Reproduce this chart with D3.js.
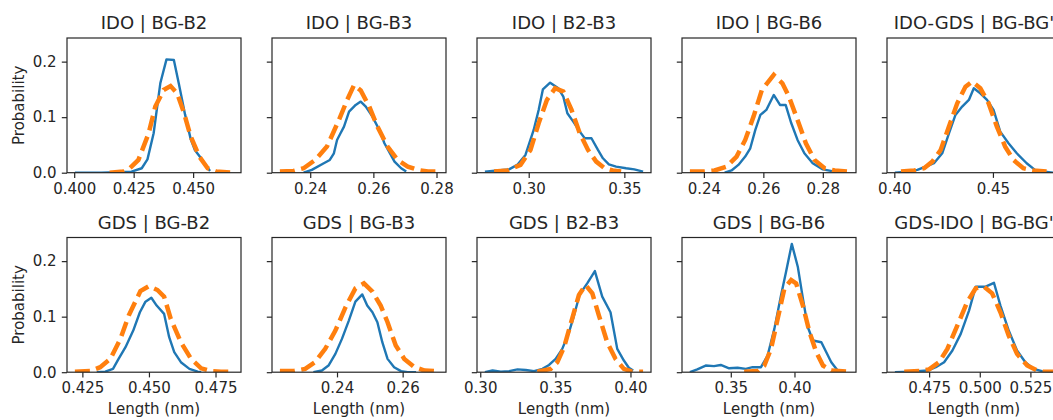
<!DOCTYPE html>
<html>
<head>
<meta charset="utf-8">
<script src="https://cdn.jsdelivr.net/npm/d3@7"></script>
<style>
  body { margin: 0; background: #fff; overflow: hidden; }
  svg { display: block; }
  text { font-family: "DejaVu Sans", sans-serif; fill: #262626; }
</style>
</head>
<body>
<svg id="chart" width="1053" height="420"></svg>
<script>
// Panel titles (row-major, 2 rows x 5 columns)
const titles = [
  "IDO | BG-B2", "IDO | BG-B3", "IDO | B2-B3", "IDO | BG-B6", "IDO-GDS | BG-BG'",
  "GDS | BG-B2", "GDS | BG-B3", "GDS | B2-B3", "GDS | BG-B6", "GDS-IDO | BG-BG'"
];

// x tick values and decimals per panel
const xTicks = [
  [0.400, 0.425, 0.450], [0.24, 0.26, 0.28], [0.30, 0.35], [0.24, 0.26, 0.28], [0.40, 0.45],
  [0.425, 0.450, 0.475], [0.24, 0.26], [0.30, 0.35, 0.40], [0.35, 0.40], [0.475, 0.500, 0.525]
];
const xTickDigits = [3, 2, 2, 2, 2, 3, 2, 2, 2, 3];
const yTicks = [0.0, 0.1, 0.2];
const yLabel = "Probability";
const xLabel = "Length (nm)";

// Sampled length distributions: [length (nm), probability]
const simIdoBgB2 = [[0.4003,0],[0.4114,0],[0.4241,0.002],[0.4284,0.008],[0.4308,0.024],[0.4334,0.071],[0.4362,0.161],[0.4388,0.204],[0.4419,0.203],[0.444,0.16],[0.4466,0.105],[0.449,0.06],[0.4507,0.041],[0.4535,0.025],[0.4571,0.003]];
const refIdoBgB2 = [[0.4149,0],[0.4206,0.002],[0.4234,0.008],[0.427,0.023],[0.4313,0.071],[0.4341,0.119],[0.4376,0.149],[0.4405,0.156],[0.4433,0.143],[0.4462,0.107],[0.449,0.065],[0.4526,0.029],[0.4561,0.008],[0.4597,0.002],[0.4668,0]];

const simIdoBgB3 = [[0.2379,0],[0.2405,0.005],[0.2443,0.017],[0.2462,0.023],[0.2475,0.035],[0.2485,0.059],[0.2496,0.071],[0.2507,0.083],[0.2523,0.11],[0.2544,0.122],[0.256,0.128],[0.2576,0.119],[0.2597,0.101],[0.2619,0.077],[0.2635,0.053],[0.2667,0.02],[0.2688,0.008],[0.2704,0.002]];
const refIdoBgB3 = [[0.2304,0.002],[0.2347,0.003],[0.2379,0.008],[0.2416,0.023],[0.2453,0.047],[0.2491,0.095],[0.2517,0.131],[0.2539,0.158],[0.256,0.148],[0.2587,0.119],[0.2613,0.083],[0.2645,0.047],[0.2677,0.023],[0.2709,0.011],[0.2741,0.005],[0.2773,0.002],[0.2805,0.002]];

const simIdoB2B3 = [[0.2771,0.002],[0.2836,0.004],[0.2897,0.006],[0.294,0.014],[0.2983,0.032],[0.3026,0.077],[0.3052,0.113],[0.3074,0.15],[0.3112,0.162],[0.3155,0.152],[0.3181,0.137],[0.3202,0.107],[0.3233,0.092],[0.3267,0.074],[0.3293,0.062],[0.3328,0.062],[0.3362,0.041],[0.3388,0.026],[0.3419,0.015],[0.3457,0.011],[0.3509,0.008],[0.3552,0.006],[0.3598,0.002]];
const refIdoB2B3 = [[0.2819,0.002],[0.2888,0.004],[0.2957,0.014],[0.3009,0.041],[0.3052,0.089],[0.3095,0.131],[0.3138,0.152],[0.3181,0.146],[0.3224,0.113],[0.3267,0.071],[0.331,0.041],[0.3353,0.02],[0.3397,0.008],[0.344,0.004],[0.3483,0.002]];

const simIdoBgB6 = [[0.247,0],[0.2493,0.004],[0.2516,0.014],[0.2539,0.029],[0.2556,0.044],[0.2573,0.077],[0.259,0.104],[0.261,0.113],[0.2635,0.14],[0.2656,0.122],[0.2675,0.122],[0.2694,0.089],[0.2715,0.059],[0.2738,0.035],[0.2766,0.017],[0.28,0.006],[0.284,0.002]];
const refIdoBgB6 = [[0.2353,0.002],[0.2397,0.002],[0.2436,0.004],[0.2476,0.011],[0.251,0.029],[0.2539,0.059],[0.2567,0.101],[0.2595,0.149],[0.2635,0.176],[0.2664,0.161],[0.2686,0.137],[0.2715,0.095],[0.2743,0.053],[0.2772,0.023],[0.2806,0.008],[0.284,0.004],[0.2885,0.002]];

const simIdoGdsBgBg = [[0.4003,0],[0.4067,0.002],[0.4117,0.005],[0.4159,0.011],[0.4201,0.017],[0.4243,0.035],[0.4277,0.071],[0.431,0.104],[0.4344,0.119],[0.4378,0.131],[0.4403,0.152],[0.4436,0.143],[0.447,0.131],[0.4503,0.113],[0.4537,0.074],[0.4579,0.053],[0.4621,0.035],[0.4671,0.017],[0.4713,0.005],[0.4763,0.002],[0.4805,0]];
const refIdoGdsBgBg = [[0.4034,0.002],[0.4101,0.004],[0.4151,0.008],[0.4193,0.02],[0.4235,0.041],[0.4277,0.083],[0.4319,0.125],[0.4361,0.155],[0.4394,0.164],[0.4436,0.152],[0.4478,0.125],[0.452,0.083],[0.4562,0.047],[0.4604,0.023],[0.4654,0.008],[0.4705,0.004],[0.4772,0.002]];

const simGdsBgB2 = [[0.4304,0],[0.4336,0.001],[0.4365,0.006],[0.4386,0.024],[0.4412,0.045],[0.4441,0.075],[0.4466,0.108],[0.4487,0.127],[0.4509,0.134],[0.4529,0.12],[0.4557,0.105],[0.4576,0.063],[0.4595,0.036],[0.462,0.018],[0.4652,0.006],[0.4683,0.001],[0.4696,0]];
const refGdsBgB2 = [[0.4222,0.001],[0.4279,0.002],[0.4317,0.009],[0.4355,0.024],[0.4393,0.06],[0.4424,0.102],[0.4468,0.146],[0.45,0.155],[0.4532,0.148],[0.4557,0.136],[0.4582,0.096],[0.462,0.054],[0.4658,0.024],[0.4696,0.007],[0.4734,0.002],[0.4771,0.001],[0.4816,0.001]];

const simGdsBgB3 = [[0.2328,0],[0.2354,0.003],[0.2374,0.012],[0.2395,0.033],[0.2415,0.06],[0.2436,0.093],[0.2456,0.127],[0.2477,0.14],[0.2492,0.12],[0.2508,0.108],[0.2523,0.09],[0.2538,0.054],[0.2554,0.024],[0.2574,0.009],[0.2595,0.002],[0.2615,0],[0.2641,0]];
const refGdsBgB3 = [[0.2226,0.002],[0.2267,0.002],[0.2303,0.006],[0.2333,0.018],[0.2364,0.042],[0.2395,0.075],[0.2426,0.117],[0.2456,0.151],[0.2482,0.16],[0.2508,0.145],[0.2533,0.12],[0.2554,0.09],[0.2579,0.048],[0.2605,0.024],[0.2636,0.009],[0.2667,0.003],[0.2708,0.002]];

const simGdsB2B3 = [[0.3031,0],[0.3082,0.003],[0.3137,0.001],[0.3192,0.002],[0.3248,0.005],[0.3303,0.004],[0.3358,0.002],[0.3414,0.006],[0.3458,0.013],[0.3502,0.024],[0.3546,0.042],[0.3591,0.072],[0.3624,0.102],[0.3662,0.14],[0.3712,0.16],[0.3763,0.182],[0.3812,0.136],[0.3867,0.108],[0.3912,0.042],[0.3956,0.021],[0.3989,0.008],[0.4018,0.003]];
const refGdsB2B3 = [[0.338,0.001],[0.3469,0.006],[0.3513,0.018],[0.3558,0.045],[0.3602,0.087],[0.3657,0.139],[0.3701,0.157],[0.3746,0.142],[0.379,0.102],[0.3845,0.054],[0.39,0.024],[0.3956,0.006],[0.4011,0.001],[0.4084,0.001]];

const simGdsBgB6 = [[0.3179,0],[0.3237,0.005],[0.3303,0.012],[0.3368,0.011],[0.3421,0.013],[0.3487,0.007],[0.3553,0.008],[0.3618,0.006],[0.3671,0.009],[0.3737,0.009],[0.3789,0.03],[0.3842,0.078],[0.3895,0.139],[0.3934,0.181],[0.3979,0.231],[0.4026,0.19],[0.4066,0.133],[0.4105,0.081],[0.4145,0.057],[0.4211,0.054],[0.425,0.036],[0.4289,0.018],[0.4342,0.002]];
const refGdsBgB6 = [[0.3605,0.001],[0.3711,0.002],[0.3763,0.012],[0.3816,0.042],[0.3868,0.096],[0.3921,0.151],[0.3974,0.166],[0.4013,0.16],[0.4066,0.12],[0.4118,0.072],[0.4171,0.036],[0.4224,0.012],[0.4289,0.003],[0.4421,0.001]];

const simGdsIdoBgBg = [[0.4581,0],[0.466,0.001],[0.4742,0.003],[0.4783,0.009],[0.4824,0.018],[0.4865,0.039],[0.4906,0.069],[0.4947,0.111],[0.498,0.154],[0.5029,0.154],[0.507,0.161],[0.5102,0.12],[0.5143,0.075],[0.5184,0.039],[0.5225,0.018],[0.5266,0.006],[0.5307,0.002],[0.5357,0]];
const refGdsIdoBgBg = [[0.4627,0.001],[0.4701,0.002],[0.475,0.005],[0.4799,0.018],[0.484,0.042],[0.4889,0.084],[0.4939,0.127],[0.498,0.151],[0.502,0.154],[0.5061,0.142],[0.5102,0.108],[0.5143,0.066],[0.5184,0.033],[0.5234,0.012],[0.5283,0.003],[0.5312,0.001],[0.5362,0.001]];

const simulated = [simIdoBgB2, simIdoBgB3, simIdoB2B3, simIdoBgB6, simIdoGdsBgBg,
                   simGdsBgB2, simGdsBgB3, simGdsB2B3, simGdsBgB6, simGdsIdoBgBg];
const reference = [refIdoBgB2, refIdoBgB3, refIdoB2B3, refIdoBgB6, refIdoGdsBgBg,
                   refGdsBgB2, refGdsBgB3, refGdsB2B3, refGdsBgB6, refGdsIdoBgBg];

// ---- layout ----
const svg = d3.select("#chart");
const panelW = 174, panelH = 134.7;
const colLeft = c => 67 + c * 205;
const rowTop = [38, 237.5];
const ink = "#262626";
const tickLen = 5.2;
const labelSize = 15, titleSize = 18;

// shared y range: all panels share the y axis (max value + 5% margin)
const yMaxData = d3.max(simulated.concat(reference), s => d3.max(s, d => d[1]));
const yScale = d3.scaleLinear().domain([0, yMaxData * 1.05]).range([panelH, 0]);

titles.forEach((title, i) => {
  const r = Math.floor(i / 5), c = i % 5;
  const g = svg.append("g").attr("transform", `translate(${colLeft(c)},${rowTop[r]})`);

  const xs = simulated[i].concat(reference[i]).map(d => d[0]);
  const [lo, hi] = d3.extent(xs);
  const pad = (hi - lo) * 0.05;
  const xScale = d3.scaleLinear().domain([lo - pad, hi + pad]).range([0, panelW]);

  const clipId = "clip" + i;
  g.append("clipPath").attr("id", clipId)
    .append("rect").attr("width", panelW).attr("height", panelH);

  const line = d3.line().x(d => xScale(d[0])).y(d => yScale(d[1]));
  const plot = g.append("g").attr("clip-path", `url(#${clipId})`);
  plot.append("path").datum(simulated[i])
    .attr("fill", "none").attr("stroke", "#1f77b4").attr("stroke-width", 2.4)
    .attr("stroke-linejoin", "round").attr("d", line);
  plot.append("path").datum(reference[i])
    .attr("fill", "none").attr("stroke", "#ff7f0e").attr("stroke-width", 4.5)
    .attr("stroke-dasharray", "15,6.5").attr("d", line);

  // x axis
  const xa = g.append("g").attr("transform", `translate(0,${panelH})`)
    .call(d3.axisBottom(xScale).tickValues(xTicks[i])
      .tickFormat(d3.format("." + xTickDigits[i] + "f"))
      .tickSize(tickLen).tickPadding(5.2).tickSizeOuter(0));
  // y axis (labels only in the first column)
  const ya = g.append("g")
    .call(d3.axisLeft(yScale).tickValues(yTicks)
      .tickFormat(c === 0 ? d3.format(".1f") : () => "")
      .tickSize(tickLen).tickPadding(5.2).tickSizeOuter(0));
  [xa, ya].forEach(a => {
    a.select(".domain").remove();
    a.selectAll("line").attr("stroke", ink).attr("stroke-width", 1.2);
    a.selectAll("text").attr("font-size", labelSize).attr("font-family", "DejaVu Sans").attr("fill", ink);
  });

  // frame
  g.append("rect").attr("width", panelW).attr("height", panelH)
    .attr("fill", "none").attr("stroke", ink).attr("stroke-width", 1.2);

  // title
  g.append("text").attr("x", panelW / 2).attr("y", -9)
    .attr("text-anchor", "middle").attr("font-size", titleSize).text(title);

  if (c === 0) {
    g.append("text")
      .attr("transform", `translate(${23.5 - colLeft(0)},${panelH / 2}) rotate(-90)`)
      .attr("text-anchor", "middle").attr("font-size", labelSize).text(yLabel);
  }
  if (r === 1) {
    g.append("text").attr("x", panelW / 2).attr("y", 414 - rowTop[1])
      .attr("text-anchor", "middle").attr("font-size", labelSize).text(xLabel);
  }
});
</script>
</body>
</html>
